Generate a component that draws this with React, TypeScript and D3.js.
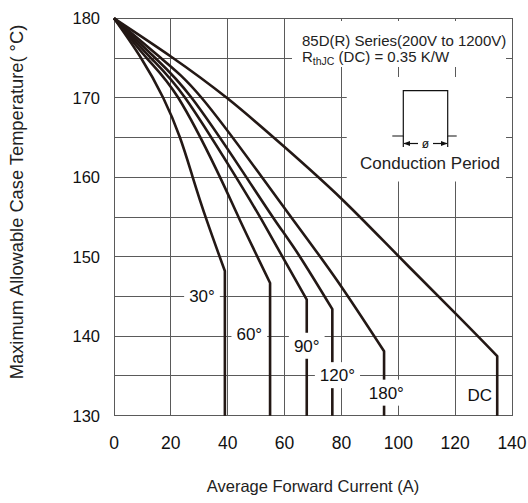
import React from "react";
import * as d3 from "d3";

// ---- data ----
const X_TICKS = [0, 20, 40, 60, 80, 100, 120, 140];
const Y_TICKS = [130, 140, 150, 160, 170, 180];
const Y_GRID = [130, 135, 140, 145, 150, 155, 160, 165, 170, 175, 180];

const CURVE_30 = [[0, 180], [9.5, 175], [17.3, 170], [23.2, 165], [27.7, 160], [32.6, 154.6], [39, 148.2]];
const CURVE_60 = [[0, 180], [11.5, 175], [22.6, 170], [36.1, 160.9], [44.3, 154.6], [54.9, 146.7]];
const CURVE_90 = [[0, 180], [13, 175], [25, 170], [41.4, 160.9], [52, 154.6], [67.8, 144.6]];
const CURVE_120 = [[0, 180], [14.5, 175], [27.3, 170], [44.9, 160.9], [56.6, 154.6], [65.4, 150], [76.8, 143.4]];
const CURVE_180 = [[0, 180], [16.5, 175], [30.8, 170], [50.2, 160.9], [63.1, 154.6], [78.3, 147.1], [95, 138.1]];
const CURVE_DC = [[0, 180], [20, 175.2], [40, 169.9], [60, 163.8], [80, 157.3], [100, 150.1], [120, 142.9], [134.8, 137.5]];

const SERIES_NAMES = ["30°", "60°", "90°", "120°", "180°", "DC"];
const SERIES = [CURVE_30, CURVE_60, CURVE_90, CURVE_120, CURVE_180, CURVE_DC];

const TITLE_LINE1 = "85D(R) Series(200V to 1200V)";
const X_TITLE = "Average Forward Current (A)";
const Y_TITLE = "Maximum Allowable Case Temperature( °C)";

// ---- layout ----
const W = 528;
const H = 503;
const LEFT = 114;
const RIGHT = 512;
const TOP = 18.3;
const BOTTOM = 415.7;
const LABEL_POS = [
  [30.95, 145.05],
  [47.6, 140.35],
  [67.8, 138.8],
  [78.6, 135.1],
  [95.8, 132.9],
  [128.7, 132.6],
];
const LABEL_MASK = [true, true, true, true, true, false];

const FONT = "'Liberation Sans', Arial, Helvetica, sans-serif";
const INK = "#231815";
const GRID = "#5a5a5a";

export default function App() {
  const x = d3.scaleLinear().domain([0, 140]).range([LEFT, RIGHT]);
  const y = d3.scaleLinear().domain([130, 180]).range([BOTTOM, TOP]);

  const curveGen = d3
    .line<number[]>()
    .x((d) => x(d[0]))
    .y((d) => y(d[1]))
    .curve(d3.curveNatural);

  const labelFs = 17;

  return (
    <svg
      width={W}
      height={H}
      style={{ position: "absolute", left: 0, top: 0, background: "#fff" }}
      fontFamily={FONT}
    >
      <rect x={0} y={0} width={W} height={H} fill="#fff" />
      {/* grid */}
      <g stroke={GRID} strokeWidth={1} shapeRendering="crispEdges">
        {X_TICKS.map((t) => (
          <line key={"vx" + t} x1={x(t)} x2={x(t)} y1={y(130)} y2={y(180)} />
        ))}
        {Y_GRID.map((t) => (
          <line key={"hy" + t} x1={x(0)} x2={x(140)} y1={y(t)} y2={y(t)} />
        ))}
      </g>
      {/* annotation masks */}
      <rect x={292} y={21} width={214} height={46} fill="#fff" />
      <rect x={346.7} y={77} width={159.3} height={104.5} fill="#fff" />

      {/* annotation text */}
      <text x={302} y={46} fontSize={15} fill="#222">
        {TITLE_LINE1}
      </text>
      <text x={302} y={62} fontSize={15} fill="#222">
        R<tspan fontSize={10.5} dy={2.5}>thJC</tspan>
        <tspan dy={-2.5}> (DC) = 0.35 K/W</tspan>
      </text>
      {/* conduction symbol */}
      <g stroke="#111" strokeWidth={1.2} fill="none">
        <polyline points={`392.3,136 403.3,136 403.3,90.7 447.7,90.7 447.7,136 456.7,136`} />
        <line x1={403.3} x2={403.3} y1={136} y2={147} />
        <line x1={447.7} x2={447.7} y1={136} y2={147} />
        <line x1={404} x2={418} y1={143.5} y2={143.5} />
        <line x1={433} x2={447} y1={143.5} y2={143.5} />
      </g>
      <path d="M403.5,143.5 L410,141 L410,146 Z" fill="#111" />
      <path d="M447.5,143.5 L441,141 L441,146 Z" fill="#111" />
      <text x={425.5} y={148} fontSize={12} textAnchor="middle" fill="#111">
        ø
      </text>
      <text x={430} y={169} fontSize={17} textAnchor="middle" fill="#222">
        Conduction Period
      </text>

      {/* curves */}
      <g fill="none" stroke={INK} strokeWidth={2.6} strokeLinejoin="round">
        {SERIES.map((pts, i) => {
          const last = pts[pts.length - 1];
          const d = (curveGen(pts as any) || "") + `L${x(last[0])},${y(130)}`;
          return <path key={SERIES_NAMES[i]} d={d} />;
        })}
      </g>

      {/* curve labels */}
      {SERIES_NAMES.map((name, i) => {
        const cx = x(LABEL_POS[i][0]);
        const cy = y(LABEL_POS[i][1]);
        const w = labelFs * (0.556 * (name.length - 1) + 0.4) + 10;
        return (
          <g key={"lab" + name}>
            {LABEL_MASK[i] && (
              <rect x={cx - w / 2} y={cy - 13} width={w} height={26} fill="#fff" />
            )}
            <text x={cx} y={cy} dy="0.36em" fontSize={labelFs} textAnchor="middle" fill="#111">
              {name}
            </text>
          </g>
        );
      })}

      {/* tick labels */}
      {Y_TICKS.map((t) => (
        <text key={"yt" + t} x={100} y={y(t)} dy="0.36em" fontSize={16.5} textAnchor="end" fill="#111">
          {t}
        </text>
      ))}
      {X_TICKS.map((t) => (
        <text key={"xt" + t} x={x(t)} y={449} fontSize={17.5} textAnchor="middle" fill="#111">
          {t}
        </text>
      ))}

      {/* axis titles */}
      <text x={x(70)} y={492} fontSize={16.5} textAnchor="middle" fill="#222">
        {X_TITLE}
      </text>
      <text
        transform={`translate(23,202) rotate(-90)`}
        fontSize={18.3}
        textAnchor="middle"
        fill="#222"
      >
        {Y_TITLE}
      </text>
    </svg>
  );
}
